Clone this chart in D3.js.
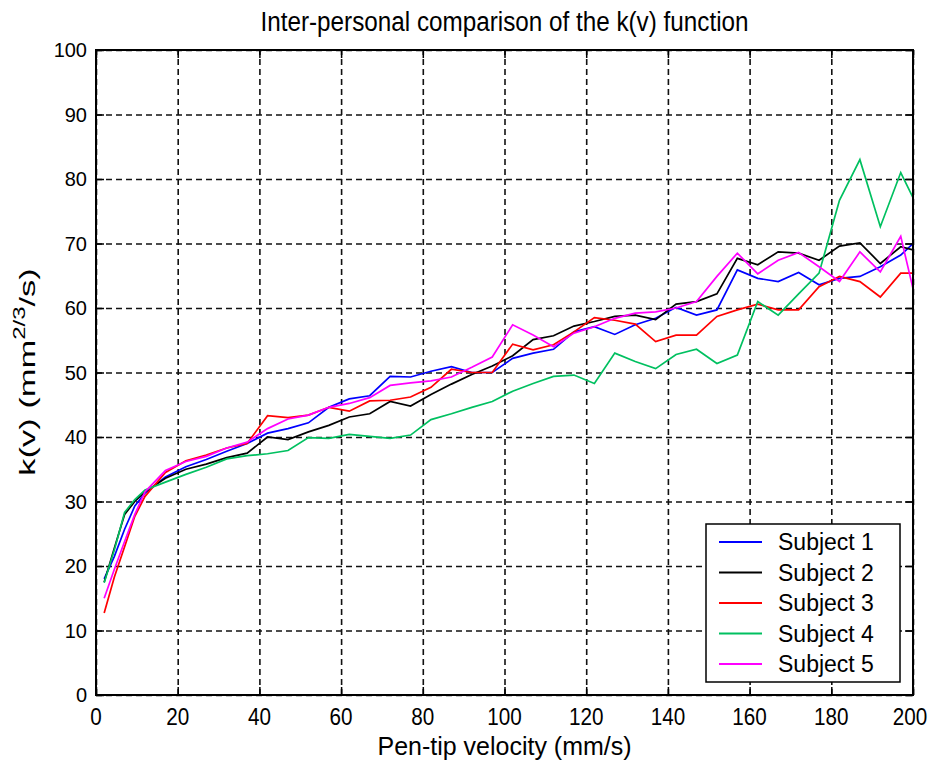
<!DOCTYPE html>
<html lang="en">
<head>
  <meta charset="UTF-8">
  <title>k(v) comparison</title>
  <script src="https://d3js.org/d3.v7.min.js"></script>
  <style type="text/css">
    body { margin: 0; background: #fff; }
    .grid line { stroke: #111; stroke-width: 1.6; stroke-dasharray: 6,4; }
    .grid path { display: none; }
    .ticks line { stroke: #000; stroke-width: 1.5; }
    .ticks path { display: none; }
    .series { fill: none; stroke-width: 1.7; }
    .frame { fill: none; stroke: #000; stroke-width: 2; }
  </style>
</head>
<body>
<script>
  // pen-tip velocity (mm/s) sample points
  var velocity = [2, 4.5, 7, 9.5, 12, 17, 22, 27, 32, 37, 42, 47, 52, 57, 62, 67, 72, 77, 82, 87,
    92, 97, 102, 107, 112, 117, 122, 127, 132, 137, 142, 147, 152, 157, 162, 167, 172, 177, 182,
    187, 192, 197, 200];

  var subject1 = [18, 21.5, 25.7, 29.3, 31.3, 33.8, 35.4, 36.5, 37.8, 39, 40.6, 41.3, 42.2, 44.6,
    45.9, 46.4, 49.4, 49.3, 50.2, 50.9, 50, 50, 52.2, 53, 53.6, 56.3, 57.1, 55.9, 57.4, 58.4, 60.1,
    58.9, 59.7, 65.9, 64.6, 64.1, 65.5, 63.6, 64.6, 64.9, 66.4, 68.2, 70];
  var subject2 = [17.5, 22.8, 28, 30, 31.5, 33.6, 35, 35.8, 36.8, 37.5, 40, 39.6, 40.8, 41.8, 43.1,
    43.6, 45.5, 44.8, 46.6, 48.2, 49.7, 51, 52.6, 55.1, 55.7, 57.2, 57.9, 58.7, 58.9, 58.2, 60.6,
    61, 62.2, 67.7, 66.7, 68.7, 68.5, 67.4, 69.6, 70.1, 66.9, 69.5, 69];
  var subject3 = [12.7, 18.3, 23, 27.7, 30.8, 34.5, 36.3, 37.2, 38.3, 39, 43.3, 43, 43.4, 44.6, 44,
    45.6, 45.7, 46.2, 47.7, 50.5, 50, 50, 54.4, 53.5, 54.3, 56.3, 58.5, 58.1, 57.5, 54.8, 55.8,
    55.8, 58.7, 59.7, 60.6, 59.7, 59.7, 63.3, 64.9, 64.1, 61.7, 65.4, 65.4];
  var subject4 = [17.4, 22.5, 28.3, 30.3, 31.8, 33, 34.2, 35.3, 36.6, 37.1, 37.4, 37.9, 39.9, 39.8,
    40.4, 40.1, 39.8, 40.3, 42.7, 43.6, 44.6, 45.5, 47.1, 48.3, 49.4, 49.6, 48.3, 53, 51.7, 50.6,
    52.8, 53.6, 51.4, 52.7, 61, 58.9, 62.2, 65.4, 76.7, 83, 72.6, 81, 77.1];
  var subject5 = [15, 19.5, 23.8, 28, 31.5, 34.8, 36.2, 37, 38.3, 39.2, 41.3, 42.8, 43.4, 44.6,
    45.2, 46.1, 48, 48.4, 48.7, 49.3, 50.8, 52.4, 57.4, 55.8, 54, 56.1, 57.1, 58.4, 59.2, 59.4, 60,
    61, 64.9, 68.5, 65.3, 67.4, 68.6, 66.4, 64.1, 68.7, 65.6, 71.1, 63];

  var seriesNames = ["Subject 1", "Subject 2", "Subject 3", "Subject 4", "Subject 5"];
  var seriesColors = ["#0000ff", "#000000", "#ff0000", "#00c060", "#ff00ff"];
  var xTicks = [0, 20, 40, 60, 80, 100, 120, 140, 160, 180, 200];
  var yTicks = [0, 10, 20, 30, 40, 50, 60, 70, 80, 90, 100];

  var allSeries = [subject1, subject2, subject3, subject4, subject5];

  var W = 932, H = 761;
  var margin = {top: 50, right: 19, bottom: 66, left: 96}
    , width = W - margin.left - margin.right
    , height = H - margin.top - margin.bottom;

  var xScale = d3.scaleLinear().domain([0, 200]).range([0, width]);
  var yScale = d3.scaleLinear().domain([0, 100]).range([height, 0]);

  var font = "'Liberation Sans', Arial, sans-serif";

  var svg = d3.select("body").append("svg")
    .attr("width", W)
    .attr("height", H);

  var g = svg.append("g")
    .attr("transform", "translate(" + margin.left + "," + margin.top + ")");

  g.append("clipPath").attr("id", "plot-clip")
    .append("rect").attr("width", width).attr("height", height);

  // dashed grid
  g.append("g").attr("class", "grid")
    .attr("transform", "translate(0," + height + ")")
    .call(d3.axisBottom(xScale).tickValues(xTicks).tickSize(-height).tickFormat(""));
  g.append("g").attr("class", "grid")
    .call(d3.axisLeft(yScale).tickValues(yTicks).tickSize(-width).tickFormat(""));

  // the curves
  var line = d3.line()
    .x(function(d, i) { return xScale(velocity[i]); })
    .y(function(d) { return yScale(d); });

  g.append("g").attr("clip-path", "url(#plot-clip)")
    .selectAll("path")
    .data(allSeries)
    .enter().append("path")
    .attr("class", "series")
    .attr("stroke", function(d, i) { return seriesColors[i]; })
    .attr("d", line);

  // inward ticks on all four sides
  var tk = 8;
  g.append("g").attr("class", "ticks")
    .attr("transform", "translate(0," + height + ")")
    .call(d3.axisBottom(xScale).tickValues(xTicks).tickSize(-tk).tickFormat(""));
  g.append("g").attr("class", "ticks")
    .call(d3.axisTop(xScale).tickValues(xTicks).tickSize(-tk).tickFormat(""));
  g.append("g").attr("class", "ticks")
    .call(d3.axisLeft(yScale).tickValues(yTicks).tickSize(-tk).tickFormat(""));
  g.append("g").attr("class", "ticks")
    .attr("transform", "translate(" + width + ",0)")
    .call(d3.axisRight(yScale).tickValues(yTicks).tickSize(-tk).tickFormat(""));

  g.append("rect").attr("class", "frame")
    .attr("width", width).attr("height", height);

  // tick labels (x labels are condensed like the original)
  g.selectAll(".xlab")
    .data(xTicks)
    .enter().append("text")
    .attr("class", "xlab")
    .attr("x", function(d) { return Math.min(xScale(d), width - 3); })
    .attr("y", height + 30)
    .attr("text-anchor", "middle")
    .attr("font-family", font)
    .attr("font-size", 24)
    .attr("textLength", function(d) { return String(d).length * 11.5; })
    .attr("lengthAdjust", "spacingAndGlyphs")
    .text(function(d) { return d; });

  g.selectAll(".ylab")
    .data(yTicks)
    .enter().append("text")
    .attr("class", "ylab")
    .attr("x", -9)
    .attr("y", function(d) { return yScale(d); })
    .attr("dy", "0.36em")
    .attr("text-anchor", "end")
    .attr("font-family", font)
    .attr("font-size", 20)
    .text(function(d) { return d; });

  // title and axis labels
  svg.append("text")
    .attr("x", margin.left + width / 2)
    .attr("y", 31)
    .attr("text-anchor", "middle")
    .attr("font-family", font)
    .attr("font-size", 27)
    .attr("textLength", 488)
    .attr("lengthAdjust", "spacingAndGlyphs")
    .text("Inter-personal comparison of the k(v) function");

  svg.append("text")
    .attr("x", margin.left + width / 2)
    .attr("y", 755)
    .attr("text-anchor", "middle")
    .attr("font-family", font)
    .attr("font-size", 25)
    .attr("textLength", 254)
    .attr("lengthAdjust", "spacingAndGlyphs")
    .text("Pen-tip velocity (mm/s)");

  // y label: rotated, stretched along its length as in the original
  var yl = svg.append("text")
    .attr("transform", "translate(35,372) rotate(-90) scale(1.5,1)")
    .attr("text-anchor", "middle")
    .attr("font-family", font)
    .attr("font-size", 23);
  yl.append("tspan").text("k(v) (mm");
  yl.append("tspan").attr("dy", -10).attr("font-size", 16).text("2/3");
  yl.append("tspan").attr("dy", 10).text("/s)");

  // legend
  var lg = svg.append("g").attr("transform", "translate(706,524)");
  lg.append("rect")
    .attr("width", 194).attr("height", 158)
    .attr("fill", "#fff").attr("stroke", "#000").attr("stroke-width", 1.5);
  var entry = lg.selectAll(".entry")
    .data(seriesNames)
    .enter().append("g")
    .attr("class", "entry")
    .attr("transform", function(d, i) { return "translate(0," + (18 + i * 30.5) + ")"; });
  entry.append("line")
    .attr("x1", 13).attr("x2", 56)
    .attr("stroke", function(d, i) { return seriesColors[i]; })
    .attr("stroke-width", 2);
  entry.append("text")
    .attr("x", 72)
    .attr("dy", "0.36em")
    .attr("font-family", font)
    .attr("font-size", 23)
    .text(function(d) { return d; });
</script>
</body>
</html>
